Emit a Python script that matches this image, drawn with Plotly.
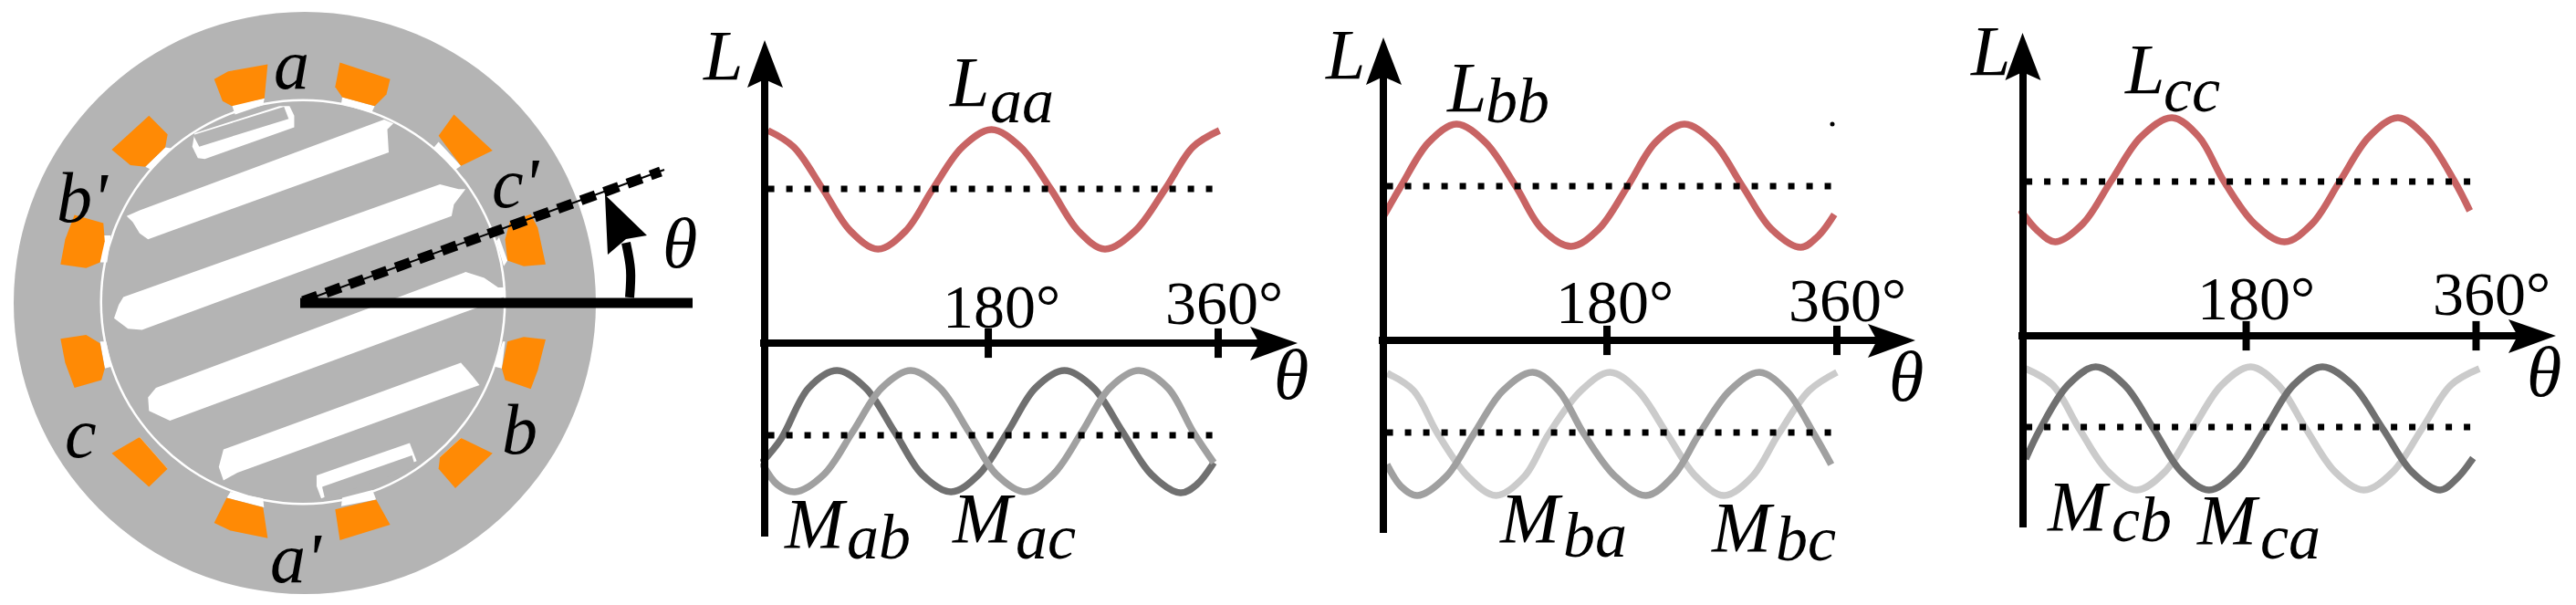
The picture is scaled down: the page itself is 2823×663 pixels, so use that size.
import plotly.graph_objects as go

W, H = 2823, 663
FONT = "Liberation Serif"
PX_PER_DEG = 497 / 360

# ---------------- curve data: theta (deg), L (arbitrary units) ----------------
laa_t = [2.6, 23, 46, 68, 90, 112, 133.5, 157, 180, 203, 227, 249, 270, 294, 318, 340, 361]
laa_v = [233, 215, 169, 123, 103, 123, 169, 215, 234, 215, 169, 123, 103, 123, 169, 215, 233]
mab_t = [-2.3, 13, 35, 57.5, 80, 103, 125, 148, 170, 193, 215, 238, 261, 284, 307, 330, 343, 356.5]
mab_v = [-131, -105, -49, -30, -49, -97, -144, -163, -144, -97, -49, -30, -49, -97, -144, -164, -155, -131]
mac_t = [-2.3, 10, 24, 47, 70, 93, 116, 139, 162, 184, 207, 229, 252, 274, 297, 320, 340, 356.5]
mac_v = [-131, -155, -163, -144, -97, -49, -30, -49, -97, -144, -163, -144, -97, -49, -30, -49, -97, -131]

lbb_t = [0.6, 14, 36, 58, 81, 105, 126, 149, 171, 194, 216, 239, 262, 285, 308, 331.4, 345, 358]
lbb_v = [137, 169, 217, 237, 217, 169, 122, 103, 122, 169, 217, 237, 217, 169, 122, 102, 114, 138]
mba_t = [2.9, 14, 27, 50, 72, 95, 118.6, 139, 159, 184, 208.5, 230, 251, 275, 298.6, 320, 341.6, 355.5]
mba_v = [-136, -160, -170, -149, -102, -55, -35, -55, -102, -149, -170, -149, -102, -55, -35, -55, -102, -136]
mbc_t = [3, 24, 43, 67, 89.5, 112, 131.5, 157, 180, 202, 225, 248, 270.5, 293, 314, 338, 360]
mbc_v = [-36, -55, -102, -149, -170, -149, -102, -55, -35, -55, -102, -149, -170, -149, -102, -55, -35]

lcc_t = [-1.8, 12, 26, 48, 70, 94, 118.7, 140, 160, 184, 208, 230, 251.7, 275, 298, 320, 343, 355]
lcc_v = [138, 115, 103, 123, 169, 218, 239, 218, 169, 123, 103, 123, 169, 218, 239, 218, 169, 137]
mcb_t = [2.5, 14, 36, 58, 81, 104, 126, 148, 170, 192.6, 215, 238, 262, 286, 309, 331.5, 345, 357.6]
mcb_v = [-135, -102, -54, -34, -54, -102, -149, -169, -149, -102, -54, -34, -54, -102, -149, -169, -156, -134]
mca_t = [2.5, 24, 45, 68, 90.7, 113, 135, 158, 181, 203, 225, 248, 271, 294, 317, 340, 362.6]
mca_v = [-36, -54, -102, -149, -169, -149, -102, -54, -34, -54, -102, -149, -169, -149, -102, -54, -36]

tick_theta = [177.5, 360]
tick_labels = ["180°", "360°"]
dotted_theta = [2.6, 361]

RED, DARK, MID, LIGHT = "#C86464", "#707070", "#A0A0A0", "#CBCBCB"

panels = [
    dict(x0=838, y0=376, top=44, bottom=588, tip=1422, up=169, low=-101,
         curves=[(laa_t, laa_v, RED), (mab_t, mab_v, DARK), (mac_t, mac_v, MID)]),
    dict(x0=1516, y0=373, top=41, bottom=584, tip=2099, up=169, low=-101,
         curves=[(lbb_t, lbb_v, RED), (mbc_t, mbc_v, LIGHT), (mba_t, mba_v, MID)]),
    dict(x0=2216.5, y0=368, top=36, bottom=578, tip=2801, up=169, low=-100,
         curves=[(lcc_t, lcc_v, RED), (mca_t, mca_v, LIGHT), (mcb_t, mcb_v, DARK)]),
]

fig = go.Figure()
layout = {}
for i, p in enumerate(panels, start=1):
    sfx = "" if i == 1 else str(i)
    xa, ya = f"x{sfx}", f"y{sfx}"
    left, right = p["x0"] - 5, p["tip"] - 40
    ytop, ybot = p["top"] + 40, p["bottom"]
    layout[f"xaxis{sfx}"] = dict(
        domain=[left / W, right / W], range=[-5 / PX_PER_DEG, (right - p["x0"]) / PX_PER_DEG],
        anchor="free", position=1 - p["y0"] / H, showline=True, linecolor="black", linewidth=7.5,
        showgrid=False, zeroline=False, ticks="", showticklabels=False)
    layout[f"yaxis{sfx}"] = dict(
        domain=[1 - ybot / H, 1 - ytop / H], range=[p["y0"] - ybot, p["y0"] - ytop],
        anchor="free", position=p["x0"] / W, showline=True, linecolor="black", linewidth=7.5,
        showgrid=False, zeroline=False, ticks="", showticklabels=False)
    for t, v, c in p["curves"]:
        fig.add_trace(go.Scatter(x=t, y=v, mode="lines", xaxis=xa, yaxis=ya, cliponaxis=False,
                                 line=dict(color=c, width=7.5, shape="spline", smoothing=1.0),
                                 showlegend=False, hoverinfo="skip"))
    for lvl in (p["up"], p["low"]):
        fig.add_trace(go.Scatter(x=dotted_theta, y=[lvl, lvl], mode="lines", xaxis=xa, yaxis=ya,
                                 cliponaxis=False, line=dict(color="black", width=7, dash="7px,13px"),
                                 showlegend=False, hoverinfo="skip"))
    fig.add_trace(go.Scatter(x=tick_theta, y=[0, 0], mode="markers", xaxis=xa, yaxis=ya, cliponaxis=False,
                             marker=dict(symbol="line-ns", size=23, line=dict(color="black", width=8)),
                             showlegend=False, hoverinfo="skip"))

# ---------------- schematic overlay, in picture pixels ----------------
OV = dict(xaxis="x4", yaxis="y4", showlegend=False, hoverinfo="skip", cliponaxis=False)
layout["xaxis4"] = dict(domain=[0, 1], range=[0, W], visible=False, anchor="y4")
layout["yaxis4"] = dict(domain=[0, 1], range=[H, 0], visible=False, anchor="x4")

MX, MY = 1.96, 2.365   # reading scale of the motor sketch

coils = [
    [(460,205),(490,185),(575,167),(568,255),(498,275),(478,262)],
    [(730,162),(838,205),(830,245),(805,275),(735,252),(720,225)],
    [(975,297),(1058,390),(990,430),(942,352)],
    [(320,300),(360,348),(355,382),(312,432),(280,428),(240,388)],
    [(160,557),(222,578),(225,625),(215,680),(185,695),(130,685),(140,620)],
    [(1095,575),(1140,555),(1155,590),(1172,685),(1125,690),(1090,675),(1085,620)],
    [(130,878),(185,868),(215,890),(225,955),(218,985),(160,1005),(140,940)],
    [(1090,885),(1125,873),(1172,880),(1155,960),(1140,1008),(1085,985),(1078,955)],
    [(300,1133),(360,1215),(320,1262),(240,1175)],
    [(990,1135),(1058,1175),(978,1265),(942,1215),(945,1185)],
    [(487,1290),(565,1315),(575,1395),(495,1375),(460,1355)],
    [(808,1295),(838,1360),(730,1400),(720,1320)],
]
white_slots = [
    [(418,345),(600,275),(622,275),(632,300),(632,330),(440,412),(425,410),(413,380)],
    [(300,545),(825,310),(845,320),(832,335),(835,395),(318,620),(300,605),(285,575),(272,560)],
    [(265,770),(945,478),(985,490),(1000,490),(975,530),(970,560),(305,855),(275,852),(245,825),(255,790)],
    [(335,1005),(1000,705),(1040,720),(1070,745),(1082,745),(1082,770),(1030,795),(365,1090),(320,1065),(318,1030)],
    [(480,1165),(990,940),(1015,975),(1030,998),(510,1225),(480,1245),(470,1210)],
    [(680,1232),(880,1148),(895,1195),(690,1292),(680,1260)],
    [(498,272),(568,255),(565,272),(505,297)],
    [(735,252),(805,275),(798,292),(733,270)],
    [(942,368),(990,430),(978,440),(930,385)],
    [(355,382),(312,432),(325,440),(370,385)],
    [(222,610),(215,680),(230,680),(238,610)],
    [(1072,615),(1090,675),(1082,690),(1066,625)],
    [(215,885),(225,955),(240,950),(228,885)],
    [(1085,885),(1078,955),(1062,950),(1080,885)],
    [(300,1133),(360,1215),(345,1210),(295,1140)],
    [(990,1135),(945,1185),(955,1195),(1000,1145)],
    [(495,1275),(565,1292),(567,1315),(487,1290)],
    [(735,1290),(800,1270),(808,1295),(733,1312)],
]
gray_boxes = [
    [(415,350),(610,277),(620,308),(428,380)],
    [(692,1262),(885,1180),(892,1210),(698,1293)],
]

shapes = []
for (cx, cy, r, col) in [(334, 332, 319, "#B4B4B4"), (332, 331, 222.5, "white"), (332, 331, 220, "#B4B4B4")]:
    shapes.append(dict(type="circle", xref="x4", yref="y4", x0=cx - r, x1=cx + r, y0=cy - r, y1=cy + r,
                       fillcolor=col, line=dict(width=0), layer="between"))

def poly(pts, color, sx=1.0, sy=1.0):
    xs = [q[0] / sx for q in pts] + [pts[0][0] / sx]
    ys = [q[1] / sy for q in pts] + [pts[0][1] / sy]
    fig.add_trace(go.Scatter(x=xs, y=ys, mode="lines", fill="toself", fillcolor=color,
                             line=dict(width=0, color=color), **OV))

for s in white_slots:
    poly(s, "white", MX, MY)
for g in gray_boxes:
    poly(g, "#B4B4B4", MX, MY)
for c in coils:
    poly(c, "#FF8A05", MX, MY)

# rotor axis, dashed reference line, angle arrow
fig.add_trace(go.Scatter(x=[329, 759], y=[332, 332], mode="lines", line=dict(color="black", width=11), **OV))
fig.add_trace(go.Scatter(x=[332, 728], y=[330, 186], mode="lines", line=dict(color="black", width=2), **OV))
fig.add_trace(go.Scatter(x=[332, 724], y=[330, 188], mode="lines",
                         line=dict(color="black", width=11, dash="17px,10px"), **OV))
fig.add_trace(go.Scatter(x=[690, 691, 686], y=[326, 296, 266], mode="lines",
                         line=dict(color="black", width=10, shape="spline"), **OV))
poly([(663, 213.5), (709, 258), (686, 262), (666, 279)], "black")

# axis arrow heads and stray dot
for p in panels:
    x0, y0, top, tip = p["x0"], p["y0"], p["top"], p["tip"]
    poly([(x0, top), (x0 + 20, top + 52), (x0, top + 43), (x0 - 19, top + 52)], "black")
    poly([(tip, y0), (tip - 52, y0 - 18), (tip - 42, y0), (tip - 52, y0 + 19)], "black")
fig.add_trace(go.Scatter(x=[2008], y=[136], mode="markers", marker=dict(color="black", size=5), **OV))

# ---------------- text ----------------
SIZE, SUB = 78, 70
labels = [
    ("a", 319, 70, SIZE), ("b'", 90, 216, SIZE), ("c'", 565, 200, SIZE), ("c", 88, 474, SIZE), ("b", 569, 470, SIZE),
    ("a'", 324, 611, SIZE), ("θ", 745, 266, SIZE),
    ("L", 792, 60, SIZE), ("L", 1062, 89, SIZE), ("aa", 1120, 110, SUB), ("M", 894, 573, SIZE), ("ab", 963, 588, SUB),
    ("M", 1078, 567, SIZE), ("ac", 1146, 588, SUB), ("θ", 1415, 410, SIZE),
    ("L", 1474, 59, SIZE), ("L", 1607, 95, SIZE), ("bb", 1663, 110, SUB), ("M", 1678, 567, SIZE), ("ba", 1748, 586, SUB),
    ("M", 1910, 577, SIZE), ("bc", 1979, 590, SUB), ("θ", 2089, 412, SIZE),
    ("L", 2181, 55, SIZE), ("L", 2350, 75, SIZE), ("cc", 2402, 98, SUB), ("M", 2278, 554, SIZE), ("cb", 2347, 569, SUB),
    ("M", 2442, 569, SIZE), ("ca", 2510, 588, SUB), ("θ", 2788, 407, SIZE),
]
tick_pos = [(1097, 336), (1341, 332), (1769, 331), (2024, 329), (2472, 327), (2730, 322)]

ann = []
for t, x, y, sz in labels:
    ann.append(dict(text=f"<i>{t}</i>", x=x, y=y, xref="x4", yref="y4", showarrow=False,
                    xanchor="center", yanchor="middle", font=dict(family=FONT, size=sz, color="black")))
for k, (x, y) in enumerate(tick_pos):
    ann.append(dict(text=tick_labels[k % 2], x=x, y=y, xref="x4", yref="y4", showarrow=False,
                    xanchor="center", yanchor="middle", font=dict(family=FONT, size=68, color="black")))

fig.update_layout(width=W, height=H, margin=dict(l=0, r=0, t=0, b=0), paper_bgcolor="white",
                  plot_bgcolor="rgba(0,0,0,0)", showlegend=False, shapes=shapes, annotations=ann,
                  font=dict(family=FONT), **layout)
post = "document.body.style.margin='0';document.documentElement.style.overflow='hidden';"
fig.write_html("out.html", config={"displayModeBar": False}, post_script=post)
